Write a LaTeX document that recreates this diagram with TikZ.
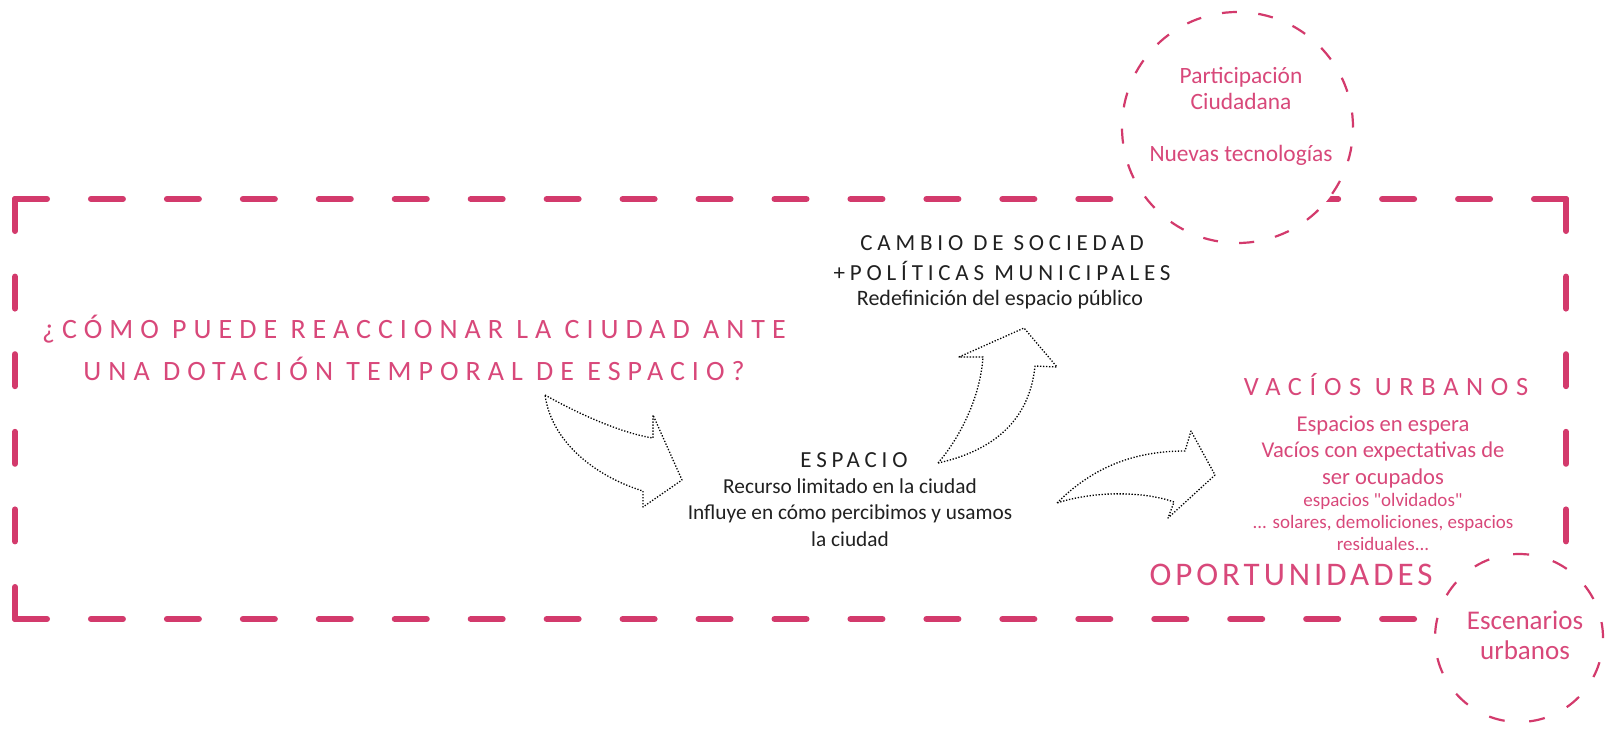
\documentclass[tikz,border=0pt]{standalone}
\usepackage{fontspec}
\setmainfont{Carlito}
\definecolor{rosa}{RGB}{211,58,108}
\definecolor{rosatexto}{RGB}{216,72,122}
\definecolor{grisosc}{RGB}{32,32,32}
\newcommand{\espaciado}[1]{\addfontfeature{LetterSpace=#1}}
\tikzset{
  marco/.style={rosa, line width=6pt, line cap=round},
  burbuja/.style={draw=rosa, line width=2.2pt, fill=white, circle, inner sep=0pt},
  flecha/.style={black, line width=1.3pt, dash pattern=on 1.3pt off 1.7pt, line join=round},
  rosado/.style={text=rosatexto, inner sep=0pt, align=center},
  oscuro/.style={text=grisosc, inner sep=0pt, align=center},
}
\begin{document}
\begin{tikzpicture}[x=1pt,y=-1pt]
  \useasboundingbox (0,0) rectangle (1605,728);
  % marco
  \coordinate (no) at (15,199);
  \coordinate (ne) at (1566,199);
  \coordinate (so) at (15,619);
  \coordinate (se) at (1566,619);
  \draw[marco, dash pattern=on 32pt off 43.95pt] (no) -- (ne);
  \draw[marco, dash pattern=on 32pt off 43.95pt] (so) -- (se);
  \draw[marco, dash pattern=on 32pt off 45.6pt] (no) -- (so);
  \draw[marco, dash pattern=on 32pt off 45.6pt] (ne) -- (se);

  % burbujas
  \node[burbuja, minimum size=231pt, dash pattern=on 15pt off 21.4pt] (burbuja1) at (1237.5,127.5) {};
  \node[burbuja, minimum size=168pt, dash pattern=on 16pt off 24.6pt] (burbuja2) at (1519,638) {};

  % textos (anchor=base: linea de base de la ultima linea)
  \node[rosado, font=\fontsize{28}{42}\selectfont\espaciado{25}, anchor=base] (pregunta) at (414,380)
    {¿CÓMO PUEDE REACCIONAR LA CIUDAD ANTE\\UNA DOTACIÓN TEMPORAL DE ESPACIO?};
  \node[oscuro, font=\fontsize{23}{30}\selectfont\espaciado{21}, anchor=base] (cambio) at (1002,280)
    {CAMBIO DE SOCIEDAD\\+POLÍTICAS MUNICIPALES};
  \node[oscuro, font=\fontsize{22}{26}\selectfont, anchor=base] (redef) at (1000,305)
    {Redefinición del espacio público};
  \node[oscuro, font=\fontsize{23}{26}\selectfont\espaciado{21}, anchor=base] (espacio) at (854,467) {ESPACIO};
  \node[oscuro, font=\fontsize{21.3}{26.5}\selectfont, anchor=base] (recurso) at (850,546)
    {Recurso limitado en la ciudad\\Influye en cómo percibimos y usamos\\la ciudad};
  \node[rosado, font=\fontsize{26.4}{30}\selectfont\espaciado{29}, anchor=base] (vacios) at (1386,395) {VACÍOS URBANOS};
  \node[rosado, font=\fontsize{22.6}{26.5}\selectfont, anchor=base] (espera) at (1383,484)
    {Espacios en espera\\Vacíos con expectativas de\\ser ocupados};
  \node[rosado, font=\fontsize{19}{22}\selectfont\addfontfeature{Ligatures=TeXOff}, anchor=base] (olvidados) at (1383,550)
    {espacios "olvidados"\\... solares, demoliciones, espacios\\residuales...};
  \node[rosado, font=\fontsize{33}{36}\selectfont\espaciado{12}, anchor=base] (oportunidades) at (1291,585) {OPORTUNIDADES};
  \node[rosado, font=\fontsize{23.4}{26}\selectfont, anchor=base] (participa) at (1241,161)
    {Participación\\Ciudadana\\[26pt]Nuevas tecnologías};
  \node[rosado, font=\fontsize{27}{30}\selectfont, anchor=base] (escenarios) at (1525,659) {Escenarios\\urbanos};

  % flechas
  \draw[flecha] (545,395) .. controls (575,412) and (620,433) .. (653,438) -- (653,415) -- (682,480)
    -- (643,507) -- (643,491) .. controls (600,478) and (552,445) .. cycle;
  \draw[flecha] (938,463) .. controls (958,440) and (980,400) .. (983,357) -- (959,357) -- (1024,328)
    -- (1057,367) -- (1035,366) .. controls (1031,405) and (1010,447) .. cycle;
  \draw[flecha] (1057,503) .. controls (1090,470) and (1130,451) .. (1185,451) -- (1191,431) -- (1215,475)
    -- (1168,518) -- (1174,502) .. controls (1140,490) and (1090,492) .. cycle;
\end{tikzpicture}
\end{document}
